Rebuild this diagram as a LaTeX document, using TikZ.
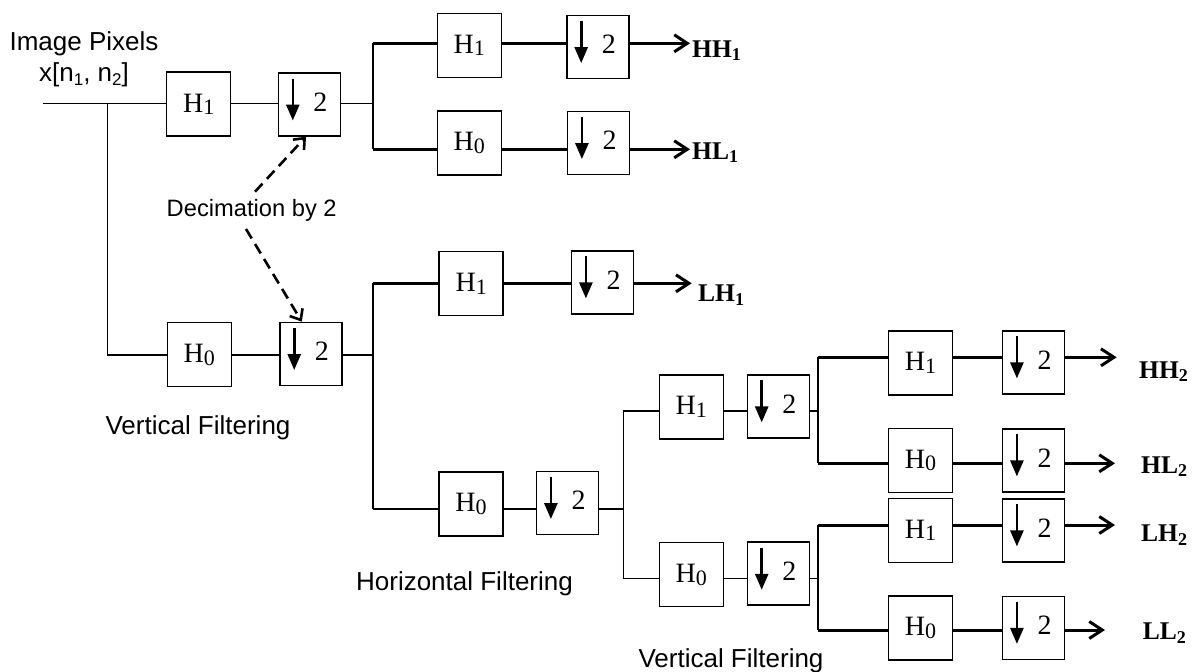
\documentclass[tikz,border=0pt]{standalone}
\usepackage{fontspec}
\setmainfont{Liberation Serif}
\setsansfont{Liberation Sans}
\usetikzlibrary{arrows.meta}
\newcommand\Hs[1]{H\raisebox{-2.5pt}{\fontsize{22}{22}\selectfont #1}}
\newcommand\Ol[2]{\textbf{#1}\raisebox{-3.5pt}{\fontsize{18}{18}\selectfont\bfseries #2}}
\tikzset{
  boxline/.style={draw, line width=1.5pt},
  filt/.style={boxline, minimum width=64pt, minimum height=64pt, inner sep=0pt, font=\fontsize{28}{28}\selectfont},
  dsbox/.style={boxline, minimum width=62pt, minimum height=63pt, inner sep=0pt,
    path picture={
      \draw[line width=2.6pt,-{Triangle[length=16pt,width=13pt]}]
        ([xshift=14.4pt,yshift=-5.6pt]path picture bounding box.north west) --
        ([xshift=14.4pt,yshift=15.4pt]path picture bounding box.south west);
      \node[font=\fontsize{28}{28}\selectfont, inner sep=0pt] at ([xshift=11pt,yshift=2.5pt]path picture bounding box.center) {2};
    }},
  wire/.style={line width=1.6pt},
  bwire/.style={line width=3pt},
  vwire/.style={line width=2pt},
  outarrow/.style={line width=3pt, -{Straight Barb[length=13pt,width=17pt]}},
  outlab/.style={anchor=base west, inner sep=0pt, font=\fontsize{25.5}{26}\selectfont},
  lab/.style={anchor=base, inner sep=0pt, font=\sffamily\fontsize{26}{26}\selectfont},
  declab/.style={anchor=base, inner sep=0pt, font=\sffamily\fontsize{23.7}{24}\selectfont},
  decarrow/.style={line width=2.6pt, dash pattern=on 11pt off 6.5pt, -{Straight Barb[length=9pt,width=15pt]}},
}
\begin{document}
\begin{tikzpicture}[x=1pt,y=-1pt]
\useasboundingbox (0,0) rectangle (1192,672);
% ---------- stage 1 (vertical filtering)
\coordinate (in) at (42.7,103.3);
\coordinate (j0) at (107.3,103.3);
\coordinate (j0b) at (107.3,355);
\node[filt] (a1) at (198.7,104.2) {\Hs{1}};
\node[dsbox] (d1) at (309.4,104.4) {};
\node[filt] (a0) at (199.3,354.7) {\Hs{0}};
\node[dsbox] (d0) at (310.8,353.9) {};
\draw[wire] (in) -- (in -| a1.west);
\draw[wire] (j0) -- (j0b) -- (j0b -| a0.west);
\draw[wire] (a1.east |- in) -- (d1.west |- in);
\draw[wire] (a0.east |- j0b) -- (d0.west |- j0b);
% ---------- upper branch: HH1, HL1
\coordinate (j1t) at (372.7,43.3);
\coordinate (j1b) at (372.7,149.3);
\draw[wire] (d1.east |- in) -- (j1t |- in);
\draw[vwire] (j1t) -- (j1b);
\node[filt] (b1) at (469.3,45.3) {\Hs{1}};
\node[dsbox] (c1) at (597.8,47) {};
\node[filt] (b2) at (469.3,142.8) {\Hs{0}};
\node[dsbox] (c2) at (598.5,143) {};
\coordinate (o1) at (690,43.3);
\coordinate (o2) at (690,149.3);
\draw[bwire] (j1t) -- (j1t -| b1.west);
\draw[bwire] (b1.east |- j1t) -- (c1.west |- j1t);
\draw[outarrow] (c1.east |- o1) -- (o1);
\draw[bwire] (j1b) -- (j1b -| b2.west);
\draw[bwire] (b2.east |- j1b) -- (c2.west |- j1b);
\draw[outarrow] (c2.east |- o2) -- (o2);
\node[outlab] (l1) at (692,57.3) {\Ol{HH}{1}};
\node[outlab] (l2) at (692,159.3) {\Ol{HL}{1}};
% ---------- lower branch: LH1 and horizontal filtering
\coordinate (j2t) at (372.7,283.3);
\coordinate (j2b) at (372.7,509);
\draw[wire] (d0.east |- j0b) -- (j2t |- j0b);
\draw[vwire] (j2t) -- (j2b);
\node[filt] (b3) at (471.2,283.7) {\Hs{1}};
\node[dsbox] (c3) at (602.5,282.3) {};
\coordinate (o3) at (691.7,283.3);
\draw[bwire] (j2t) -- (j2t -| b3.west);
\draw[bwire] (b3.east |- j2t) -- (c3.west |- j2t);
\draw[outarrow] (c3.east |- o3) -- (o3);
\node[outlab] (l3) at (698,301.5) {\Ol{LH}{1}};
\node[filt] (b4) at (471,504) {\Hs{0}};
\node[dsbox] (c4) at (567.5,503) {};
\draw[wire] (j2b) -- (j2b -| b4.west);
\draw[wire] (b4.east |- j2b) -- (c4.west |- j2b);
% ---------- stage 3
\coordinate (j3t) at (623.3,411);
\coordinate (j3b) at (623.3,578.3);
\draw[wire] (c4.east |- j2b) -- (j3t |- j2b);
\draw[wire] (j3t) -- (j3b);
\node[filt] (e1) at (691.3,407) {\Hs{1}};
\node[dsbox] (f1) at (778.3,406.3) {};
\node[filt] (e2) at (691.3,574.7) {\Hs{0}};
\node[dsbox] (f2) at (778.3,573.7) {};
\draw[wire] (j3t) -- (j3t -| e1.west);
\draw[wire] (e1.east |- j3t) -- (f1.west |- j3t);
\draw[wire] (j3b) -- (j3b -| e2.west);
\draw[wire] (e2.east |- j3b) -- (f2.west |- j3b);
% ---------- stage 4
\coordinate (j4t) at (817.7,357.3);
\coordinate (j4b) at (817.7,463.3);
\coordinate (j5t) at (817.7,525);
\coordinate (j5b) at (817.7,630);
\draw[wire] (f1.east |- j3t) -- (j4t |- j3t);
\draw[wire] (f2.east |- j3b) -- (j5t |- j3b);
\draw[vwire] (j4t) -- (j4b);
\draw[vwire] (j5t) -- (j5b);
\node[filt] (g1) at (920.5,362.8) {\Hs{1}};
\node[dsbox] (h1) at (1033.5,362.3) {};
\node[filt] (g2) at (920.5,460.3) {\Hs{0}};
\node[dsbox] (h2) at (1033.5,460.3) {};
\node[filt] (g3) at (920.5,530.3) {\Hs{1}};
\node[dsbox] (h3) at (1033.5,530.3) {};
\node[filt] (g4) at (920.5,627.8) {\Hs{0}};
\node[dsbox] (h4) at (1033.5,627.8) {};
\coordinate (p1) at (1116.7,357.3);
\coordinate (p2) at (1115,463.3);
\coordinate (p3) at (1115,525);
\coordinate (p4) at (1105,630);
\draw[bwire] (j4t) -- (j4t -| g1.west);
\draw[bwire] (g1.east |- j4t) -- (h1.west |- j4t);
\draw[outarrow] (h1.east |- p1) -- (p1);
\draw[bwire] (j4b) -- (j4b -| g2.west);
\draw[bwire] (g2.east |- j4b) -- (h2.west |- j4b);
\draw[outarrow] (h2.east |- p2) -- (p2);
\draw[bwire] (j5t) -- (j5t -| g3.west);
\draw[bwire] (g3.east |- j5t) -- (h3.west |- j5t);
\draw[outarrow] (h3.east |- p3) -- (p3);
\draw[bwire] (j5b) -- (j5b -| g4.west);
\draw[bwire] (g4.east |- j5b) -- (h4.west |- j5b);
\draw[outarrow] (h4.east |- p4) -- (p4);
\node[outlab] (m1) at (1139,378.3) {\Ol{HH}{2}};
\node[outlab] (m2) at (1141,473.3) {\Ol{HL}{2}};
\node[outlab] (m3) at (1141,541.7) {\Ol{LH}{2}};
\node[outlab] (m4) at (1142.7,639.5) {\Ol{LL}{2}};
% ---------- text labels
\node[lab] (ip) at (84,50) {Image Pixels};
\node[lab] (xn) at (84,81.7) {x[n\raisebox{-4pt}{\fontsize{17}{17}\selectfont 1}, n\raisebox{-4pt}{\fontsize{17}{17}\selectfont 2}]};
\node[declab] (dec) at (251.7,216.7) {Decimation by 2};
\coordinate (dsu) at (255,191.7);
\coordinate (dsl) at (246,229);
\draw[decarrow] (dsu) -- ([xshift=-3.4pt]d1.south);
\draw[decarrow] (dsl) -- ([xshift=-9pt]d0.north);
\node[lab] (vf1) at (198,434.3) {Vertical Filtering};
\node[lab] (hf) at (464.5,590) {Horizontal Filtering};
\node[lab] (vf2) at (731,667.5) {Vertical Filtering};
\end{tikzpicture}
\end{document}
